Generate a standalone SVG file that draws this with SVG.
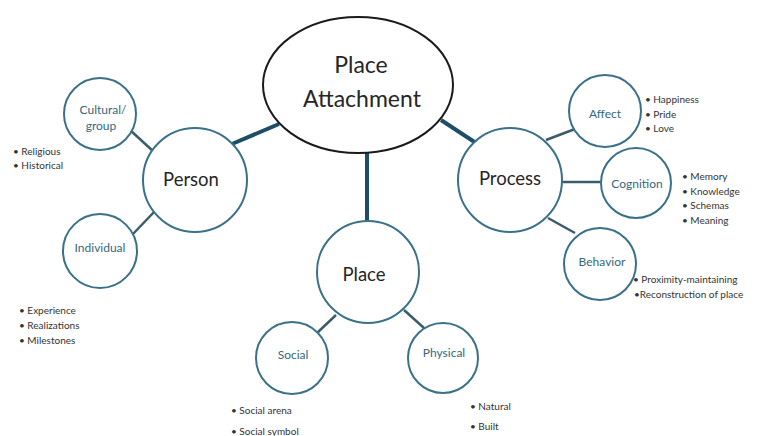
<svg xmlns="http://www.w3.org/2000/svg" width="758" height="436" viewBox="0 0 758 436">
<style>
.bg{fill:#ffffff}
.main{fill:#ffffff;stroke:#1a1a1a;stroke-width:2}
.big{fill:#ffffff;stroke:#3a7189;stroke-width:2}
.small{fill:#ffffff;stroke:#3a7189;stroke-width:2}
.thick{stroke:#1c4f67;stroke-width:4;fill:none}
.thin{stroke:#3b5c68;stroke-width:2.5;fill:none}
.t-main{font-family:Lato,"Liberation Sans",sans-serif;font-size:23px;fill:#262626;text-anchor:middle}
.t-big{font-family:Lato,"Liberation Sans",sans-serif;font-size:18.5px;fill:#262626;text-anchor:middle}
.t-small{font-family:Lato,"Liberation Sans",sans-serif;font-size:12px;fill:#35677d;text-anchor:middle}
.t-list{font-family:Lato,"Liberation Sans",sans-serif;font-size:10px;fill:#333333}
</style>
<rect class="bg" x="0" y="0" width="758" height="436"/>
<g id="connectors">
<line class="thick" x1="232" y1="144" x2="279" y2="124"/>
<line class="thick" x1="367" y1="153" x2="367" y2="221"/>
<line class="thick" x1="441" y1="120" x2="476" y2="143"/>
<line class="thin" x1="130" y1="130" x2="154" y2="152"/>
<line class="thin" x1="132" y1="235" x2="155" y2="211"/>
<line class="thin" x1="546" y1="140" x2="575" y2="129"/>
<line class="thin" x1="562" y1="182" x2="602" y2="182"/>
<line class="thin" x1="548" y1="218" x2="575" y2="233"/>
<line class="thin" x1="336" y1="315" x2="317" y2="333"/>
<line class="thin" x1="404" y1="310" x2="424" y2="328"/>
</g>
<g id="place-attachment">
<ellipse class="main" cx="358" cy="85" rx="95" ry="68"/>
<text class="t-main" x="361" y="73">Place</text>
<text class="t-main" x="362" y="107">Attachment</text>
</g>
<g id="person">
<circle class="big" cx="195" cy="180" r="52"/>
<text class="t-big" x="191" y="186">Person</text>
</g>
<g id="cultural-group">
<circle class="small" cx="100" cy="114" r="36"/>
<text class="t-small" x="103" y="114">Cultural/</text>
<text class="t-small" x="101" y="130">group</text>
</g>
<g id="individual">
<circle class="small" cx="100" cy="251" r="37"/>
<text class="t-small" x="100" y="252">Individual</text>
</g>
<g id="process">
<circle class="big" cx="510" cy="180" r="52"/>
<text class="t-big" x="510" y="185">Process</text>
</g>
<g id="affect">
<circle class="small" cx="605" cy="111" r="36"/>
<text class="t-small" x="605" y="118">Affect</text>
</g>
<g id="cognition">
<circle class="small" cx="636" cy="183" r="35"/>
<text class="t-small" x="637" y="188">Cognition</text>
</g>
<g id="behavior">
<circle class="small" cx="600" cy="264" r="36"/>
<text class="t-small" x="602" y="266">Behavior</text>
</g>
<g id="place">
<circle class="big" cx="368" cy="272" r="51"/>
<text class="t-big" x="364" y="281">Place</text>
</g>
<g id="social">
<circle class="small" cx="292" cy="358" r="36"/>
<text class="t-small" x="293" y="359">Social</text>
</g>
<g id="physical">
<circle class="small" cx="443" cy="358" r="35"/>
<text class="t-small" x="444" y="357">Physical</text>
</g>
<g id="lists">
<text class="t-list" x="13" y="155">• Religious</text>
<text class="t-list" x="13" y="169">• Historical</text>
<text class="t-list" x="19" y="314">•  Experience</text>
<text class="t-list" x="19" y="329">•  Realizations</text>
<text class="t-list" x="19" y="344">•  Milestones</text>
<text class="t-list" x="645" y="103">• Happiness</text>
<text class="t-list" x="645" y="118">• Pride</text>
<text class="t-list" x="645" y="132">• Love</text>
<text class="t-list" x="682" y="180">• Memory</text>
<text class="t-list" x="682" y="195">• Knowledge</text>
<text class="t-list" x="682" y="209">• Schemas</text>
<text class="t-list" x="682" y="224">• Meaning</text>
<text class="t-list" x="633" y="283">• Proximity-maintaining</text>
<text class="t-list" x="634" y="298">•Reconstruction of place</text>
<text class="t-list" x="231" y="414">•    Social arena</text>
<text class="t-list" x="231" y="435">•    Social symbol</text>
<text class="t-list" x="470" y="410">•    Natural</text>
<text class="t-list" x="470" y="430">•    Built</text>
</g>
</svg>
